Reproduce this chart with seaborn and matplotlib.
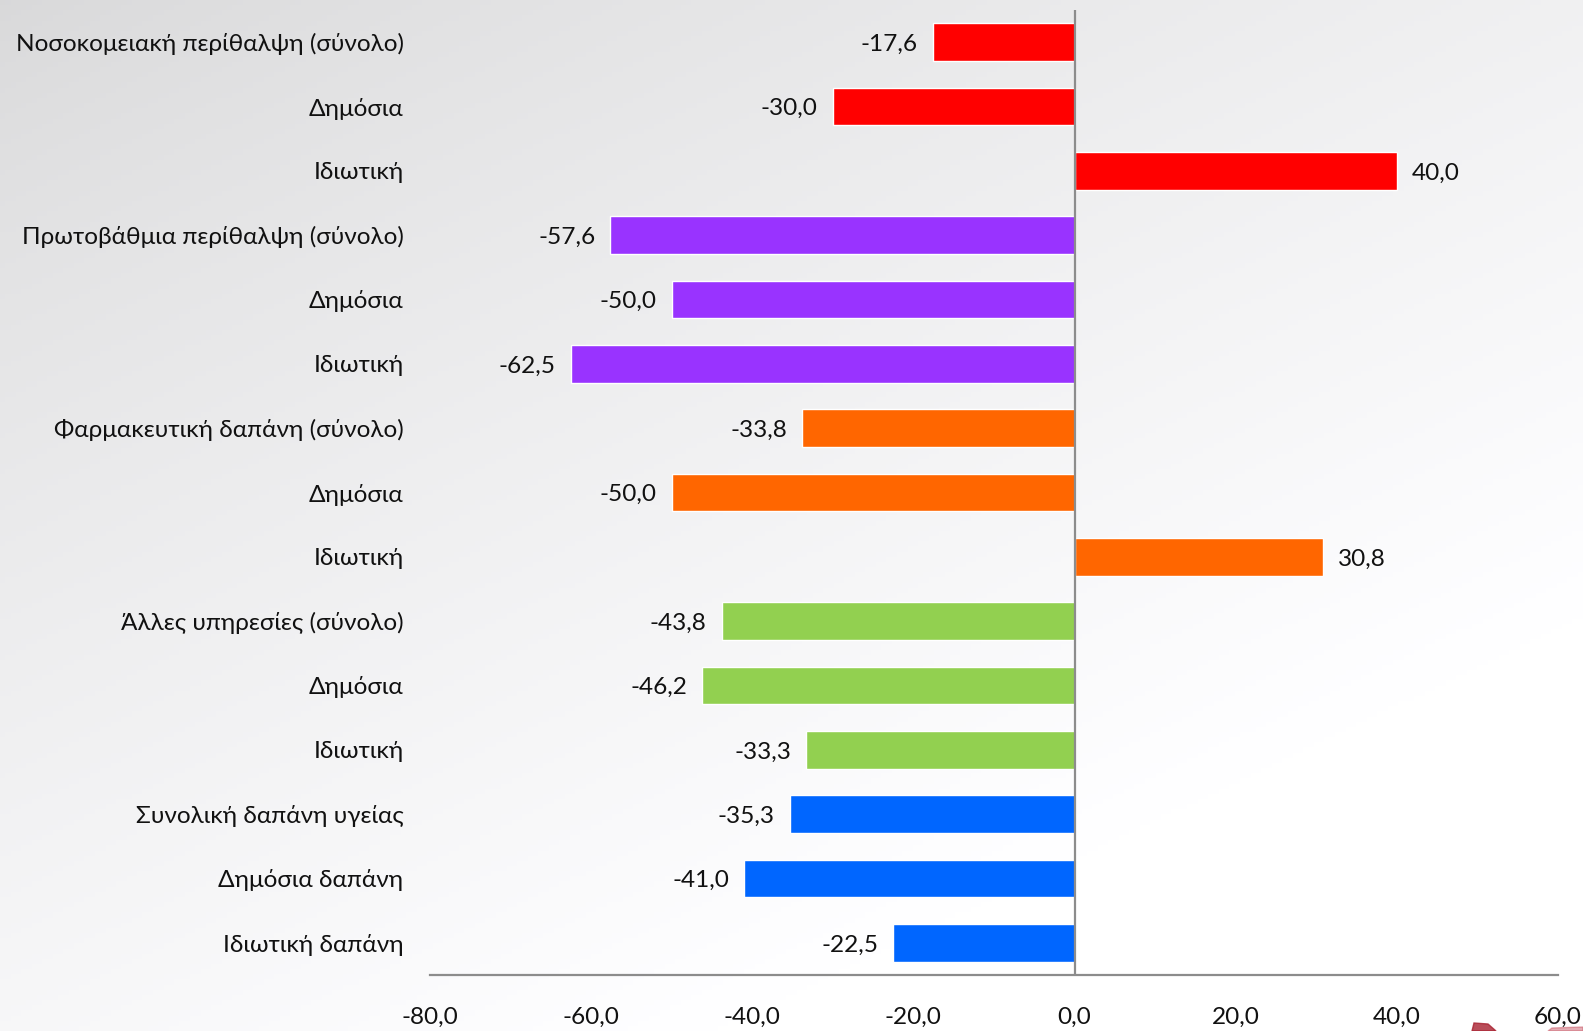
import numpy as np
import pandas as pd
import matplotlib
matplotlib.use("Agg")
import matplotlib.pyplot as plt
from matplotlib.patches import Polygon
import seaborn as sns

labels = [
    "Νοσοκομειακή περίθαλψη (σύνολο)", "Δημόσια", "Ιδιωτική",
    "Πρωτοβάθμια περίθαλψη (σύνολο)", "Δημόσια", "Ιδιωτική",
    "Φαρμακευτική δαπάνη (σύνολο)", "Δημόσια", "Ιδιωτική",
    "Άλλες υπηρεσίες (σύνολο)", "Δημόσια", "Ιδιωτική",
    "Συνολική δαπάνη υγείας", "Δημόσια δαπάνη", "Ιδιωτική δαπάνη",
]
values = [-17.6, -30.0, 40.0,
          -57.6, -50.0, -62.5,
          -33.8, -50.0, 30.8,
          -43.8, -46.2, -33.3,
          -35.3, -41.0, -22.5]
group_colors = ["#FF0000", "#9933FF", "#FF6600", "#92D050", "#0066FF"]
xticks = [-80, -60, -40, -20, 0, 20, 40, 60]

sns.set_theme(style="white")
plt.rcParams["font.family"] = ["Lato", "DejaVu Sans"]
FS = 17.6

W, H = 1583, 1031
fig = plt.figure(figsize=(W / 100, H / 100), dpi=100)

# soft gray-to-white backdrop
bg = fig.add_axes([0, 0, 1, 1], zorder=0)
yy, xx = np.mgrid[0:1:200j, 0:1:300j]
t = np.clip(0.55 * xx + 0.75 * yy, 0, 1)
shade = 0.85 + 0.15 * t ** 0.8
bg.imshow(np.dstack([shade, shade, shade * 1.005]).clip(0, 1), aspect="auto",
          extent=[0, 1, 0, 1], origin="upper")
bg.set_xlim(0, 1)
bg.set_ylim(0, 1)
bg.set_axis_off()
# corner of a logo peeking in at the bottom right
bg.add_patch(Polygon([(1472 / W, 0), (1474 / W, 8 / H), (1488 / W, 7 / H),
                      (1496 / W, 0)], closed=True, color="#a8202f", alpha=0.8))
bg.add_patch(Polygon([(1548 / W, 0), (1583 / W, 0), (1583 / W, 4 / H),
                      (1552 / W, 3 / H)], closed=True, color="#c44a5a", alpha=0.45))

ax = fig.add_axes([430 / W, 1 - 975 / H, (1558 - 430) / W, (975 - 10) / H], zorder=1)
ax.patch.set_alpha(0)

keys = [f"k{i}" for i in range(len(labels))]
palette = {k: group_colors[i // 3] for i, k in enumerate(keys)}
df = pd.DataFrame({"key": keys, "value": values})
sns.barplot(data=df, x="value", y="key", hue="key", palette=palette,
            orient="h", width=0.59, legend=False, saturation=1, ax=ax)

ax.set_xlim(-80, 60)
ax.set_ylim(len(labels) - 0.5, -0.5)
ax.set_xticks(xticks)
ax.set_xticklabels([f"{v:.1f}".replace(".", ",") for v in xticks], fontsize=FS, color="#111111")
ax.set_yticks(range(len(labels)))
ax.set_yticklabels(labels, fontsize=FS, color="#111111")
ax.set_xlabel("")
ax.set_ylabel("")
ax.tick_params(axis="x", length=0, pad=23)
ax.tick_params(axis="y", length=0, pad=19)

for s in ["top", "right", "left"]:
    ax.spines[s].set_visible(False)
ax.spines["bottom"].set_color("#8c8c8c")
ax.spines["bottom"].set_linewidth(1.6)
ax.axvline(0, color="#8c8c8c", lw=1.6, zorder=3)

for i, v in enumerate(values):
    txt = f"{v:.1f}".replace(".", ",")
    if v < 0:
        ax.annotate(txt, (v, i), xytext=(-11, -1.5), textcoords="offset points",
                    ha="right", va="center", fontsize=FS, color="#111111")
    else:
        ax.annotate(txt, (v, i), xytext=(11, -1.5), textcoords="offset points",
                    ha="left", va="center", fontsize=FS, color="#111111")

fig.savefig("out.png", dpi=100)
